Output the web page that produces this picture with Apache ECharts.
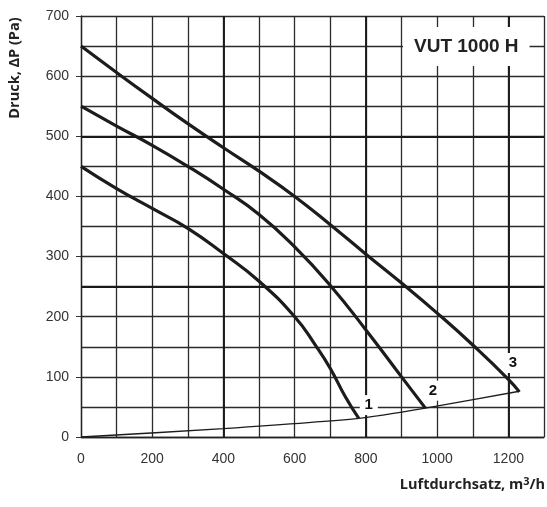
<!DOCTYPE html>
<html>
<head>
<meta charset="utf-8">
<script src="https://cdn.jsdelivr.net/npm/echarts@6/dist/echarts.min.js"></script>
<style>html,body{margin:0;padding:0;background:#fff}#c{width:547px;height:507px}</style>
</head>
<body>
<div id="c"></div>
<script>
// ---- data ----
var curve1X = [0, 100, 200, 300, 400, 500, 600, 659, 700, 743, 780];
var curve1Y = [450, 413, 380, 347, 305, 259, 200, 152, 114, 66, 31];
var curve2X = [0, 100, 200, 300, 400, 500, 600, 700, 800, 900, 967];
var curve2Y = [550, 517, 485, 450, 412, 370, 316, 252, 178, 100, 48];
var curve3X = [0, 100, 200, 300, 400, 500, 600, 700, 800, 900, 1000, 1100, 1200, 1231];
var curve3Y = [650, 606, 563, 521, 481, 442, 400, 353, 304, 256, 206, 153, 96, 75];
var systemX = [0, 400, 780, 967, 1231];
var systemY = [0, 14, 31, 48, 76];
var curveNames = ['1', '2', '3'];
var labelX = [808, 988, 1213];
var labelY = [53, 77, 123];
var xTickLabels = [0, 200, 400, 600, 800, 1000, 1200];
var yTickLabels = [0, 100, 200, 300, 400, 500, 600, 700];
var heavyX = [400, 800, 1200];
var heavyY = [250, 500];
var chartTitle = 'VUT 1000 H';
var yName = 'Druck, ΔP (Pa)';

function pairs(xs, ys) { return xs.map(function (x, i) { return [x, ys[i]]; }); }

var chart = echarts.init(document.getElementById('c'), null, { renderer: 'canvas' });
var gridColor = '#2b2b2b';
var curveStyle = { color: '#1c1c1c', width: 3.2 };

var option = {
  animation: false,
  title: {
    text: chartTitle,
    left: 403, top: 27,
    padding: [10, 11, 10, 11],
    backgroundColor: '#fff',
    textStyle: { fontFamily: 'Liberation Sans', fontWeight: 'bold', fontSize: 19, color: '#222' }
  },
  grid: { left: 81, top: 16, right: 1, bottom: 70 },
  xAxis: {
    type: 'value', min: 0, max: 1300, interval: 100,
    axisLine: { show: true, lineStyle: { color: '#222', width: 1.3 } },
    axisTick: { show: false },
    axisLabel: {
      margin: 15, fontFamily: 'Liberation Sans', fontSize: 14, color: '#333',
      formatter: function (v) { return xTickLabels.indexOf(v) >= 0 ? String(v) : ''; }
    },
    splitLine: { show: true, lineStyle: { color: gridColor, width: 1.3 } }
  },
  yAxis: {
    type: 'value', min: 0, max: 700, interval: 100,
    axisLine: { show: true, lineStyle: { color: '#222', width: 1.3 } },
    axisTick: { show: true, length: 5, lineStyle: { color: '#333', width: 1 } },
    axisLabel: {
      margin: 12, fontFamily: 'Liberation Sans', fontSize: 14, color: '#333',
      formatter: function (v) { return yTickLabels.indexOf(v) >= 0 ? String(v) : ''; }
    },
    splitLine: { show: true, lineStyle: { color: gridColor, width: 1.3 } },
    minorTick: { show: false, splitNumber: 2 },
    minorSplitLine: { show: true, lineStyle: { color: gridColor, width: 1.3 } }
  },
  graphic: [
    {
      type: 'text', x: 15, y: 68, rotation: Math.PI / 2,
      style: {
        text: yName, align: 'center', verticalAlign: 'middle',
        font: 'bold 14.5px "Open Sans"', fill: '#222'
      }
    },
    {
      type: 'text', right: 2, top: 476,
      style: {
        text: 'Luftdurchsatz, m{sup|3}/h', align: 'right',
        font: 'bold 14.5px "Open Sans"', fill: '#222',
        rich: { sup: { font: 'bold 11px "Open Sans"', fill: '#222', verticalAlign: 'top', padding: [0, 0, 6, 0] } }
      }
    }
  ],
  series: [
    {
      type: 'line', data: pairs(systemX, systemY), showSymbol: false, smooth: 0.2,
      lineStyle: { color: '#1c1c1c', width: 1.4 }, silent: true, z: 3,
      markLine: {
        silent: true, symbol: 'none', label: { show: false },
        lineStyle: { color: '#1a1a1a', width: 1.9, type: 'solid' },
        data: heavyX.map(function (v) { return { xAxis: v }; }).concat(heavyY.map(function (v) { return { yAxis: v }; }))
      }
    },
    { type: 'line', data: pairs(curve1X, curve1Y), showSymbol: false, smooth: 0.5, lineStyle: curveStyle, z: 4 },
    { type: 'line', data: pairs(curve2X, curve2Y), showSymbol: false, smooth: 0.5, lineStyle: curveStyle, z: 4 },
    { type: 'line', data: pairs(curve3X, curve3Y), showSymbol: false, smooth: 0.5, lineStyle: curveStyle, z: 4 },
    {
      type: 'scatter', symbol: 'rect', symbolSize: [18, 20], z: 6, silent: true,
      itemStyle: { color: '#fff', opacity: 1 },
      data: labelX.map(function (x, i) { return { value: [x, labelY[i]], name: curveNames[i] }; }),
      label: {
        show: true, position: 'inside', formatter: '{b}',
        fontFamily: 'Liberation Sans', fontWeight: 'bold', fontSize: 15, color: '#111'
      }
    }
  ]
};
chart.setOption(option);
</script>
</body>
</html>
